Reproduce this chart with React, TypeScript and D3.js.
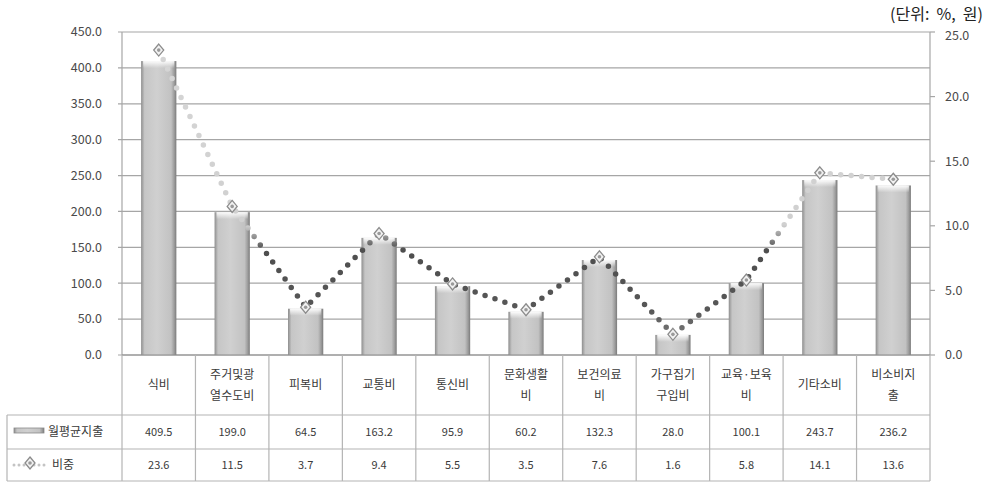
import React from "react";
import * as d3 from "d3";

// Expenditure categories (two-line labels split with "\n")
const categories: string[] = [
  "식비",
  "주거및광\n열수도비",
  "피복비",
  "교통비",
  "통신비",
  "문화생활\n비",
  "보건의료\n비",
  "가구집기\n구입비",
  "교육·보육\n비",
  "기타소비",
  "비소비지\n출",
];

// Monthly average spending (bars, left axis)
const spending: number[] = [409.5, 199.0, 64.5, 163.2, 95.9, 60.2, 132.3, 28.0, 100.1, 243.7, 236.2];
// Share of total (line, right axis)
const share: number[] = [23.6, 11.5, 3.7, 9.4, 5.5, 3.5, 7.6, 1.6, 5.8, 14.1, 13.6];

const leftTicks: number[] = [0, 50, 100, 150, 200, 250, 300, 350, 400, 450];
const rightTicks: number[] = [0, 5, 10, 15, 20, 25];

const barSeriesName = "월평균지출";
const lineSeriesName = "비중";
const unitLabel = "(단위:  %,  원)";

const W = 985;
const H = 483;
const plotLeft = 122;
const plotRight = 930;
const plotTop = 32;
const plotBottom = 355;
const tableLeft = 7;
const catRowBottom = 415;
const row1Bottom = 449;
const row2Bottom = 481;

const FONT = "'Noto Sans CJK KR', 'Noto Sans', sans-serif";

export default function App() {
  const x = d3.scaleBand<number>().domain(d3.range(categories.length)).range([plotLeft, plotRight]);
  const yL = d3.scaleLinear().domain([0, 450]).range([plotBottom, plotTop]);
  const yR = d3.scaleLinear().domain([0, 25]).range([plotBottom, plotTop]);
  const bw = x.bandwidth() * 0.48;
  const cx = (i: number) => (x(i) as number) + x.bandwidth() / 2;

  const linePath = d3
    .line<number>()
    .x((_, i) => cx(i))
    .y((d) => yR(d))(share) as string;

  const gridColor = "#a6a6a6";
  const tableColor = "#b4b4b4";

  const diamond = (px: number, py: number, key?: React.Key) => (
    <g key={key} transform={`translate(${px},${py})`}>
      <path d="M0,-6 L5,0 L0,6 L-5,0 Z" fill="#f2f2f2" stroke="#8c8c8c" strokeWidth={1.3} />
      <circle r={1.8} fill="#9a9a9a" />
    </g>
  );

  return (
    <svg width={W} height={H} style={{ position: "absolute", left: 0, top: 0, background: "#fff" }}>
      <defs>
        <linearGradient id="barFill" x1="0" x2="1" y1="0" y2="0">
          <stop offset="0" stopColor="#8e8e8e" />
          <stop offset="0.1" stopColor="#c6c6c6" />
          <stop offset="0.45" stopColor="#d0d0d0" />
          <stop offset="0.85" stopColor="#c2c2c2" />
          <stop offset="0.94" stopColor="#9c9c9c" />
          <stop offset="1" stopColor="#7a7a7a" />
        </linearGradient>
        <linearGradient id="barCap" x1="0" x2="0" y1="0" y2="1">
          <stop offset="0" stopColor="#ffffff" stopOpacity="0.95" />
          <stop offset="1" stopColor="#ffffff" stopOpacity="0" />
        </linearGradient>
        <linearGradient id="lineShade" gradientUnits="userSpaceOnUse" x1="0" x2="0" y1={plotTop} y2={plotBottom}>
          <stop offset="0" stopColor="#d6d6d6" />
          <stop offset={(225 - plotTop) / (plotBottom - plotTop)} stopColor="#d0d0d0" />
          <stop offset={(250 - plotTop) / (plotBottom - plotTop)} stopColor="#4e4e4e" />
          <stop offset={(310 - plotTop) / (plotBottom - plotTop)} stopColor="#575757" />
          <stop offset="1" stopColor="#909090" />
        </linearGradient>
      </defs>

      {/* unit label */}
      <text
        x={983}
        y={20}
        textAnchor="end"
        fontFamily={FONT}
        fontSize={16}
        fill="#222"
        xmlSpace="preserve"
        style={{ whiteSpace: "pre" }}
      >
        {unitLabel}
      </text>

      {/* horizontal gridlines and left ticks */}
      {leftTicks.map((t) => (
        <g key={`l${t}`}>
          <line x1={plotLeft - 4} x2={plotRight} y1={yL(t)} y2={yL(t)} stroke={gridColor} strokeWidth={1.2} />
          <text x={102} y={yL(t)} dy="0.35em" textAnchor="end" fontFamily={FONT} fontSize={12.5} fill="#4a4a4a">
            {t.toFixed(1)}
          </text>
        </g>
      ))}

      {/* right axis */}
      <line x1={plotRight} x2={plotRight} y1={plotTop} y2={plotBottom} stroke={gridColor} strokeWidth={1.2} />
      {rightTicks.map((t) => (
        <g key={`r${t}`}>
          <line x1={plotRight} x2={plotRight + 5} y1={yR(t)} y2={yR(t)} stroke={gridColor} strokeWidth={1.2} />
          <text
            x={945}
            y={yR(t) + (t === 25 ? 4 : 0)}
            dy="0.35em"
            textAnchor="start"
            fontFamily={FONT}
            fontSize={12.5}
            fill="#4a4a4a"
          >
            {t.toFixed(1)}
          </text>
        </g>
      ))}
      <line x1={plotLeft} x2={plotLeft} y1={plotTop} y2={plotBottom} stroke={gridColor} strokeWidth={1.2} />

      {/* bars */}
      {spending.map((v, i) => {
        const bx = cx(i) - bw / 2;
        const by = yL(v);
        const bh = plotBottom - by;
        return (
          <g key={`b${i}`}>
            <rect x={bx} y={by} width={bw} height={bh} fill="url(#barFill)" />
            <rect x={bx + 2} y={by} width={bw - 4} height={Math.min(7, bh)} fill="url(#barCap)" />
          </g>
        );
      })}

      {/* share line */}
      <path
        d={linePath}
        fill="none"
        stroke="url(#lineShade)"
        strokeWidth={5.5}
        strokeLinecap="round"
        strokeDasharray="0 10.5"
      />
      {share.map((v, i) => diamond(cx(i), yR(v), `m${i}`))}

      {/* data table */}
      <g stroke={tableColor} strokeWidth={1.2}>
        <line x1={plotLeft} x2={plotRight} y1={plotBottom} y2={plotBottom} stroke="#8c8c8c" />
        <line x1={tableLeft} x2={plotRight} y1={catRowBottom} y2={catRowBottom} />
        <line x1={tableLeft} x2={plotRight} y1={row1Bottom} y2={row1Bottom} />
        <line x1={tableLeft} x2={plotRight} y1={row2Bottom} y2={row2Bottom} />
        <line x1={tableLeft} x2={tableLeft} y1={catRowBottom} y2={row2Bottom} />
        {d3.range(categories.length + 1).map((i) => {
          const xx = i < categories.length ? (x(i) as number) : plotRight;
          return <line key={`v${i}`} x1={xx} x2={xx} y1={plotBottom} y2={row2Bottom} />;
        })}
      </g>

      {/* category labels */}
      {categories.map((c, i) => {
        const lines = c.split("\n");
        const mid = (plotBottom + catRowBottom) / 2;
        const lh = 21;
        const start = mid - ((lines.length - 1) * lh) / 2;
        return (
          <text key={`c${i}`} textAnchor="middle" fontFamily={FONT} fontSize={12} fill="#3a3a3a">
            {lines.map((l, j) => (
              <tspan key={j} x={cx(i)} y={start + j * lh} dy="0.35em">
                {l}
              </tspan>
            ))}
          </text>
        );
      })}

      {/* value rows */}
      {spending.map((v, i) => (
        <text key={`s${i}`} x={cx(i)} y={(catRowBottom + row1Bottom) / 2} dy="0.35em" textAnchor="middle" fontFamily={FONT} fontSize={11} fill="#3a3a3a">
          {v.toFixed(1)}
        </text>
      ))}
      {share.map((v, i) => (
        <text key={`p${i}`} x={cx(i)} y={(row1Bottom + row2Bottom) / 2} dy="0.35em" textAnchor="middle" fontFamily={FONT} fontSize={11} fill="#3a3a3a">
          {v.toFixed(1)}
        </text>
      ))}

      {/* legend keys */}
      <g>
        <rect x={14} y={(catRowBottom + row1Bottom) / 2 - 4} width={30} height={5} fill="url(#barFill)" stroke="#8a8a8a" strokeWidth={0.8} />
        <text x={48} y={(catRowBottom + row1Bottom) / 2} dy="0.35em" fontFamily={FONT} fontSize={12} fill="#3a3a3a">
          {barSeriesName}
        </text>
        <line
          x1={14}
          x2={46}
          y1={(row1Bottom + row2Bottom) / 2}
          y2={(row1Bottom + row2Bottom) / 2}
          stroke="#c4c4c4"
          strokeWidth={3}
          strokeLinecap="round"
          strokeDasharray="0 5"
        />
        {diamond(30, (row1Bottom + row2Bottom) / 2 - 2)}
        <text x={52} y={(row1Bottom + row2Bottom) / 2} dy="0.35em" fontFamily={FONT} fontSize={12} fill="#3a3a3a">
          {lineSeriesName}
        </text>
      </g>
    </svg>
  );
}
